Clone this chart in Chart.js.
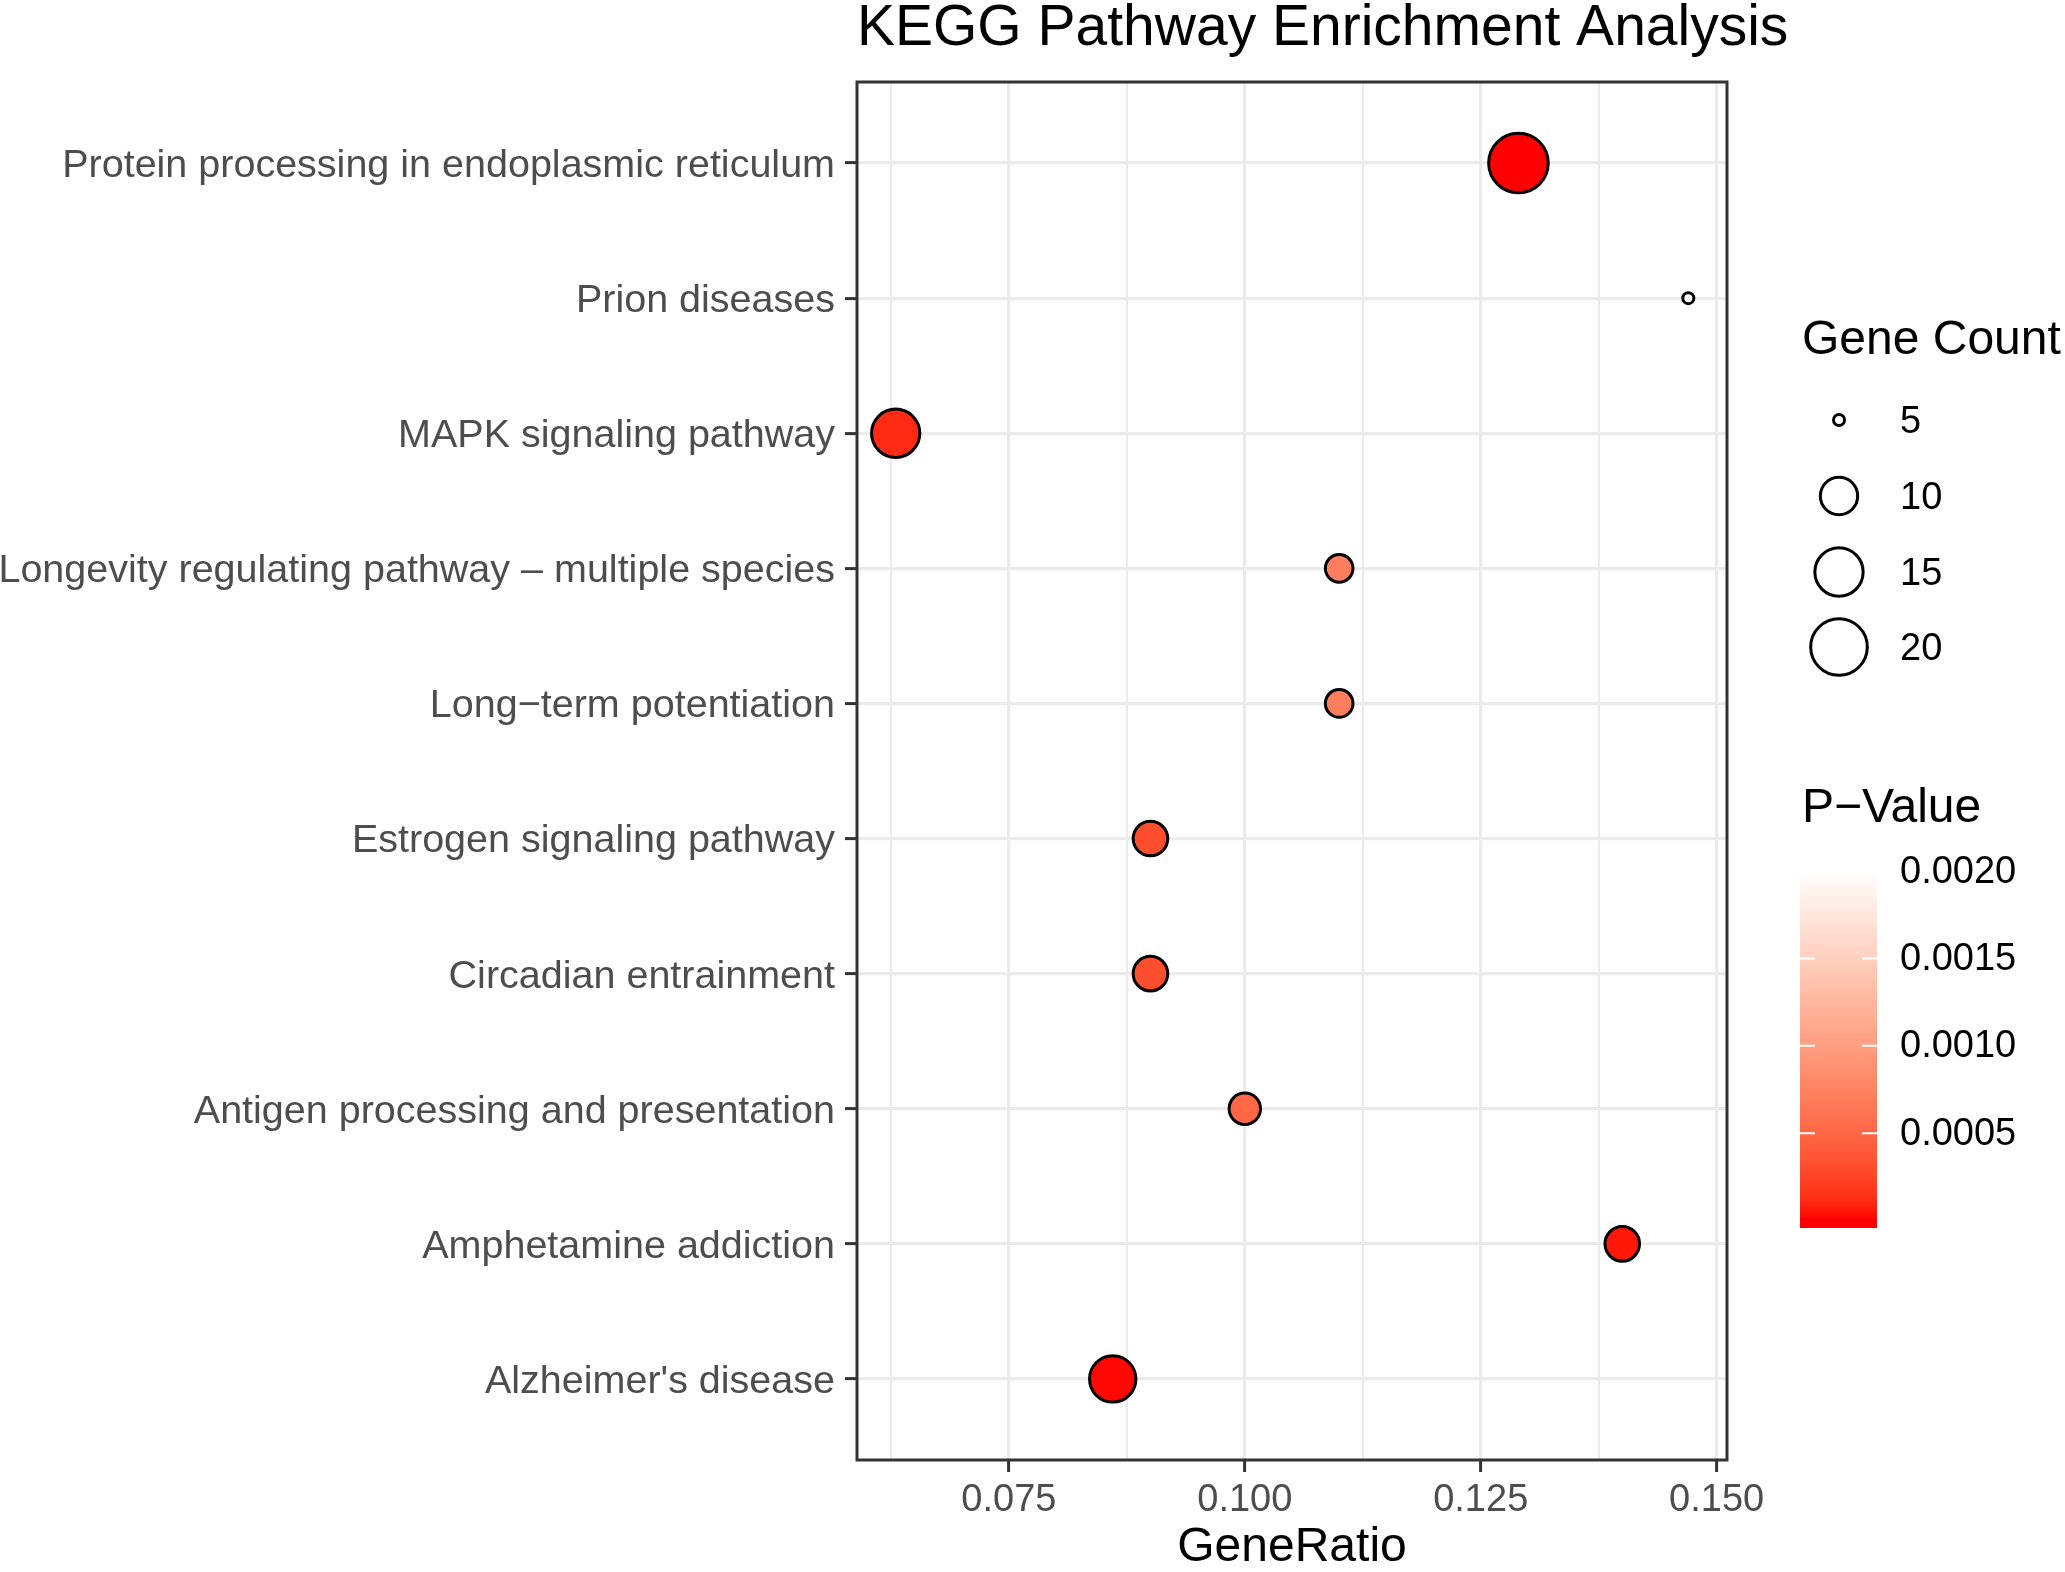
<!DOCTYPE html>
<html><head><meta charset="utf-8">
<script src="https://cdn.jsdelivr.net/npm/chart.js@4"></script>
<style>html,body{margin:0;padding:0;background:#fff;} #wrap{width:2065px;height:1572px;position:relative;background:#fff}</style>
</head><body><div id="wrap"><canvas id="c"></canvas></div>
<script>
// ---- data ----
const pathways = [
  "Protein processing in endoplasmic reticulum",
  "Prion diseases",
  "MAPK signaling pathway",
  "Longevity regulating pathway \u2013 multiple species",
  "Long\u2212term potentiation",
  "Estrogen signaling pathway",
  "Circadian entrainment",
  "Antigen processing and presentation",
  "Amphetamine addiction",
  "Alzheimer's disease"
];
const geneRatio = [0.129, 0.147, 0.063, 0.110, 0.110, 0.090, 0.090, 0.100, 0.140, 0.086];
const geneCount = [22, 5, 15, 7, 7, 9, 9, 8, 9, 14];
const pValue = [0.00001, 0.0020, 0.00011, 0.0007, 0.0007, 0.00031, 0.00031, 0.0005, 0.00005, 0.00002];
const xMajorTicks = [0.075, 0.100, 0.125, 0.150];
const xMinorTicks = [0.0625, 0.0875, 0.1125, 0.1375];
const sizeBreaks = [5, 10, 15, 20];
const pBreaks = [0.0005, 0.0010, 0.0015, 0.0020];

// ---- style helpers ----
const FONT = '"Liberation Sans", Arial, Helvetica, sans-serif';
Chart.defaults.font.family = FONT;
const cMin = Math.min(...geneCount), cMax = Math.max(...geneCount);
const R_MIN = 7, R_MAX = 31.3;
function sizeR(v){ return R_MIN + (R_MAX - R_MIN) * Math.sqrt(Math.max(0,(v - cMin)) / (cMax - cMin)); }
const pMin = Math.min(...pValue), pMax = Math.max(...pValue);

function srgbToLin(c){c/=255;return c<=0.04045?c/12.92:Math.pow((c+0.055)/1.055,2.4);}
function linToSrgb(c){c=Math.max(0,Math.min(1,c));return Math.round(255*(c<=0.0031308?12.92*c:1.055*Math.pow(c,1/2.4)-0.055));}
function rgbToLab(r,g,b){const R=srgbToLin(r),G=srgbToLin(g),B=srgbToLin(b);
  const X=(0.4124*R+0.3576*G+0.1805*B)/0.95047,Y=(0.2126*R+0.7152*G+0.0722*B),Z=(0.0193*R+0.1192*G+0.9505*B)/1.08883;
  const f=v=>v>0.008856?Math.cbrt(v):(7.787*v+16/116);
  return [116*f(Y)-16,500*(f(X)-f(Y)),200*(f(Y)-f(Z))];}
function labToRgb(L,a,b){const fy=(L+16)/116,fx=fy+a/500,fz=fy-b/200;
  const inv=t=>t*t*t>0.008856?t*t*t:(t-16/116)/7.787;
  const X=inv(fx)*0.95047,Y=inv(fy),Z=inv(fz)*1.08883;
  const R=3.2406*X-1.5372*Y-0.4986*Z,G=-0.9689*X+1.8758*Y+0.0415*Z,B=0.0557*X-0.2040*Y+1.0570*Z;
  return 'rgb('+linToSrgb(R)+','+linToSrgb(G)+','+linToSrgb(B)+')';}
const LOW = rgbToLab(255,0,0), HIGH = rgbToLab(255,255,255);
function colorAtT(t){t=Math.max(0,Math.min(1,t));
  return labToRgb(LOW[0]+(HIGH[0]-LOW[0])*t, LOW[1]+(HIGH[1]-LOW[1])*t, LOW[2]+(HIGH[2]-LOW[2])*t);}
function pColor(p){ return colorAtT((p - pMin)/(pMax - pMin)); }
const isMajor = v => xMajorTicks.some(m => Math.abs(m - v) < 1e-9);

const deco = {
  id: 'deco',
  afterDatasetsDraw(chart){
    const {ctx, chartArea:a} = chart;
    ctx.save();
    ctx.strokeStyle = '#333333'; ctx.lineWidth = 3;
    ctx.strokeRect(a.left, a.top, a.right - a.left, a.bottom - a.top);
    ctx.restore();
  },
  afterDraw(chart){
    const ctx = chart.ctx;
    ctx.save();
    // title
    ctx.fillStyle = '#000'; ctx.textBaseline = 'alphabetic'; ctx.textAlign = 'left';
    ctx.font = '57px ' + FONT;
    ctx.fillText('KEGG Pathway Enrichment Analysis', chart.chartArea.left, 45);
    // size legend
    ctx.font = '48px ' + FONT;
    ctx.fillText('Gene Count', 1802, 354);
    const ys = [420, 496, 572, 647];
    ctx.font = '38px ' + FONT; ctx.textBaseline = 'middle';
    sizeBreaks.forEach((v, i) => {
      ctx.beginPath(); ctx.arc(1839, ys[i], sizeR(v) - 1.5, 0, Math.PI*2);
      ctx.lineWidth = 3; ctx.strokeStyle = '#000'; ctx.stroke();
      ctx.fillStyle = '#000'; ctx.fillText(String(v), 1900, ys[i] + 3);
    });
    // colour bar legend
    ctx.textBaseline = 'alphabetic';
    ctx.font = '48px ' + FONT;
    ctx.fillText('P\u2212Value', 1802, 822);
    const bx0 = 1800, bx1 = 1877, by0 = 862, by1 = 1228, L = by1 - by0;
    const grad = ctx.createLinearGradient(0, by1, 0, by0);
    for (let k = 0; k <= 40; k++) {
      const f = k / 40;
      grad.addColorStop(f, colorAtT((f - 0.025) / 0.95));
    }
    ctx.fillStyle = grad; ctx.fillRect(bx0, by0, bx1 - bx0, L);
    const yOf = p => by1 - (0.025 + 0.95 * (p - pMin) / (pMax - pMin)) * L;
    ctx.font = '38px ' + FONT; ctx.textBaseline = 'middle'; ctx.fillStyle = '#000';
    ctx.strokeStyle = '#ffffff'; ctx.lineWidth = 2;
    pBreaks.forEach(p => {
      const y = yOf(p);
      ctx.beginPath(); ctx.moveTo(bx0, y); ctx.lineTo(bx0 + 15, y);
      ctx.moveTo(bx1 - 15, y); ctx.lineTo(bx1, y); ctx.stroke();
      ctx.fillText(p.toFixed(4), 1900, y + 1);
    });
    ctx.restore();
  }
};

new Chart(document.getElementById('c'), {
  type: 'scatter',
  data: {
    datasets: [{
      data: pathways.map((_, i) => ({x: geneRatio[i], y: i})),
      pointRadius: ctx => sizeR(geneCount[ctx.dataIndex]) - 1.5,
      pointBackgroundColor: ctx => pColor(pValue[ctx.dataIndex]),
      pointBorderColor: '#000',
      pointBorderWidth: 3,
      pointHoverRadius: ctx => sizeR(geneCount[ctx.dataIndex]) - 1.5
    }]
  },
  options: {
    responsive: true, maintainAspectRatio: false, devicePixelRatio: 1,
    animation: false, events: [],
    layout: {padding: {left: 0, top: 82, right: 338, bottom: 0}},
    plugins: {legend: {display: false}, tooltip: {enabled: false}, title: {display: false}},
    scales: {
      x: {
        type: 'linear', min: 0.0589, max: 0.1511,
        afterBuildTicks: s => { s.ticks = xMinorTicks.concat(xMajorTicks).sort((a,b)=>a-b).map(v => ({value: v})); },
        afterFit: s => { s.height = 112; },
        ticks: {autoSkip: false, maxRotation: 0, color: '#4D4D4D', font: {size: 38}, padding: 6,
          callback: v => isMajor(v) ? v.toFixed(3) : ''},
        grid: {color: '#EBEBEB', lineWidth: c => (c.tick && isMajor(c.tick.value)) ? 3.2 : 2,
          tickColor: c => (c.tick && isMajor(c.tick.value)) ? '#333333' : 'rgba(0,0,0,0)',
          tickWidth: 3, tickLength: 12, drawTicks: true},
        border: {display: false},
        title: {display: true, text: 'GeneRatio', color: '#000', font: {size: 48, lineHeight: 1}, padding: {top: 0, bottom: 0}}
      },
      y: {
        type: 'linear', reverse: true, min: -0.6, max: 9.6,
        afterBuildTicks: s => { s.ticks = pathways.map((_, i) => ({value: i})); },
        afterFit: s => { s.width = 857; },
        ticks: {autoSkip: false, color: '#4D4D4D', font: {size: 39.5}, padding: 10, labelOffset: 3, callback: v => pathways[v]},
        grid: {color: '#EBEBEB', lineWidth: 3.2, tickColor: '#333333', tickWidth: 3, tickLength: 12},
        border: {display: false}
      }
    }
  },
  plugins: [deco]
});
</script></body></html>
